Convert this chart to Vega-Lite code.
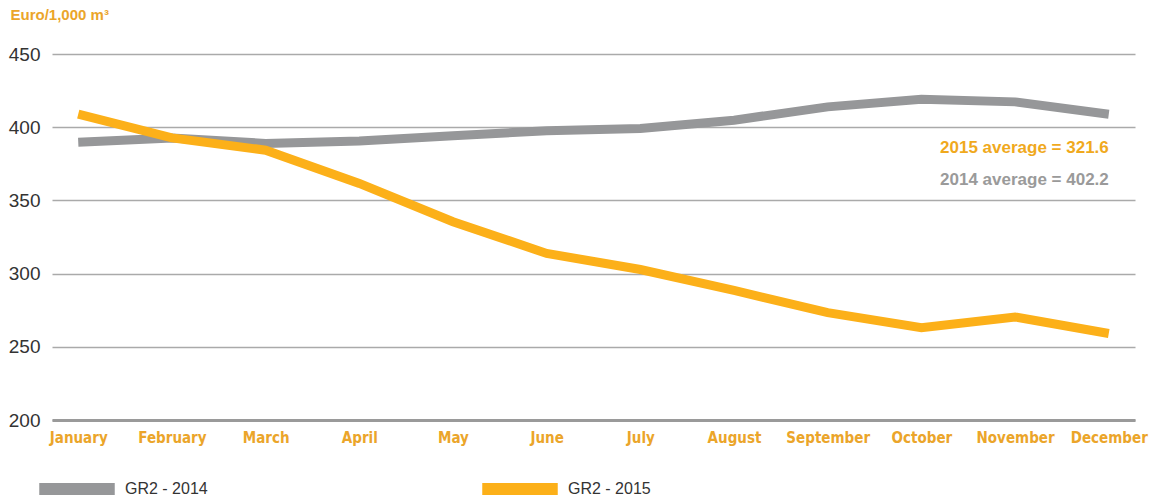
{
  "$schema": "https://vega.github.io/schema/vega-lite/v6.json",
  "width": 1083,
  "height": 366,
  "autosize": {"type": "none"},
  "padding": {"left": 52, "top": 54, "right": 24, "bottom": 80},
  "background": "white",
  "config": {"view": {"stroke": null}},
  "data": {
    "values": [
      {"month": "January", "series": "GR2 - 2014", "value": 389.8},
      {"month": "February", "series": "GR2 - 2014", "value": 392.7},
      {"month": "March", "series": "GR2 - 2014", "value": 388.9},
      {"month": "April", "series": "GR2 - 2014", "value": 390.5},
      {"month": "May", "series": "GR2 - 2014", "value": 394.2},
      {"month": "June", "series": "GR2 - 2014", "value": 397.5},
      {"month": "July", "series": "GR2 - 2014", "value": 399.1},
      {"month": "August", "series": "GR2 - 2014", "value": 404.8},
      {"month": "September", "series": "GR2 - 2014", "value": 413.9},
      {"month": "October", "series": "GR2 - 2014", "value": 419.1},
      {"month": "November", "series": "GR2 - 2014", "value": 417.3},
      {"month": "December", "series": "GR2 - 2014", "value": 408.8},
      {"month": "January", "series": "GR2 - 2015", "value": 408.9},
      {"month": "February", "series": "GR2 - 2015", "value": 392.7},
      {"month": "March", "series": "GR2 - 2015", "value": 384.3},
      {"month": "April", "series": "GR2 - 2015", "value": 361.6},
      {"month": "May", "series": "GR2 - 2015", "value": 335.4},
      {"month": "June", "series": "GR2 - 2015", "value": 313.8},
      {"month": "July", "series": "GR2 - 2015", "value": 302.8},
      {"month": "August", "series": "GR2 - 2015", "value": 288.5},
      {"month": "September", "series": "GR2 - 2015", "value": 273.3},
      {"month": "October", "series": "GR2 - 2015", "value": 263.1},
      {"month": "November", "series": "GR2 - 2015", "value": 270.4},
      {"month": "December", "series": "GR2 - 2015", "value": 259.1}
    ]
  },
  "encoding": {
    "x": {
      "field": "month",
      "type": "ordinal",
      "sort": null,
      "scale": {"type": "point", "padding": 0.28},
      "axis": {
        "title": null,
        "labelAngle": 0,
        "ticks": false,
        "grid": false,
        "domain": true,
        "domainColor": "#9a9a9a",
        "domainWidth": 3,
        "labelFont": "DejaVu Sans Condensed",
        "labelFontWeight": "bold",
        "labelFontSize": 15,
        "labelColor": "#EBA52A",
        "labelPadding": 10,
        "labelBaseline": "top"
      }
    }
  },
  "layer": [
    {
      "mark": {"type": "line", "strokeWidth": 9, "strokeCap": "butt", "strokeJoin": "miter"},
      "encoding": {
        "y": {
          "field": "value",
          "type": "quantitative",
          "scale": {"domain": [200, 450], "nice": false, "zero": false},
          "axis": {
            "values": [200, 250, 300, 350, 400, 450],
            "ticks": false,
            "domain": false,
            "grid": true,
            "gridColor": "#aaaaaa",
            "gridWidth": 1.5,
            "labelFont": "Liberation Sans",
            "labelFontSize": 19,
            "labelColor": "#333333",
            "labelPadding": 12,
            "title": "Euro/1,000 m³",
            "titleAngle": 0,
            "titleX": -42,
            "titleY": -40,
            "titleAlign": "left",
            "titleBaseline": "middle",
            "titleFont": "Liberation Sans",
            "titleFontWeight": "bold",
            "titleFontSize": 15,
            "titleColor": "#EBA52A"
          }
        },
        "color": {
          "field": "series",
          "type": "nominal",
          "scale": {"domain": ["GR2 - 2014", "GR2 - 2015"], "range": ["#969799", "#FCB019"]},
          "legend": {
            "title": null,
            "orient": "none",
            "direction": "horizontal",
            "legendX": -19,
            "legendY": 391,
            "columns": 2,
            "gridAlign": "all",
            "columnPadding": 250,
            "symbolType": "stroke",
            "symbolSize": 5700,
            "symbolStrokeWidth": 12,
            "labelFont": "Liberation Sans",
            "labelFontSize": 16,
            "labelColor": "#333333",
            "labelOffset": 4
          }
        }
      }
    },
    {
      "data": {"values": [{"label": "2015 average = 321.6"}]},
      "mark": {"type": "text", "align": "right", "baseline": "middle", "font": "Liberation Sans", "fontWeight": "bold", "fontSize": 17, "fill": "#F0A91D"},
      "encoding": {
        "text": {"field": "label"},
        "x": {"datum": "December"},
        "y": {"datum": 385.7}
      }
    },
    {
      "data": {"values": [{"label": "2014 average = 402.2"}]},
      "mark": {"type": "text", "align": "right", "baseline": "middle", "font": "Liberation Sans", "fontWeight": "bold", "fontSize": 17, "fill": "#9A9A9A"},
      "encoding": {
        "text": {"field": "label"},
        "x": {"datum": "December"},
        "y": {"datum": 363.8}
      }
    }
  ]
}
